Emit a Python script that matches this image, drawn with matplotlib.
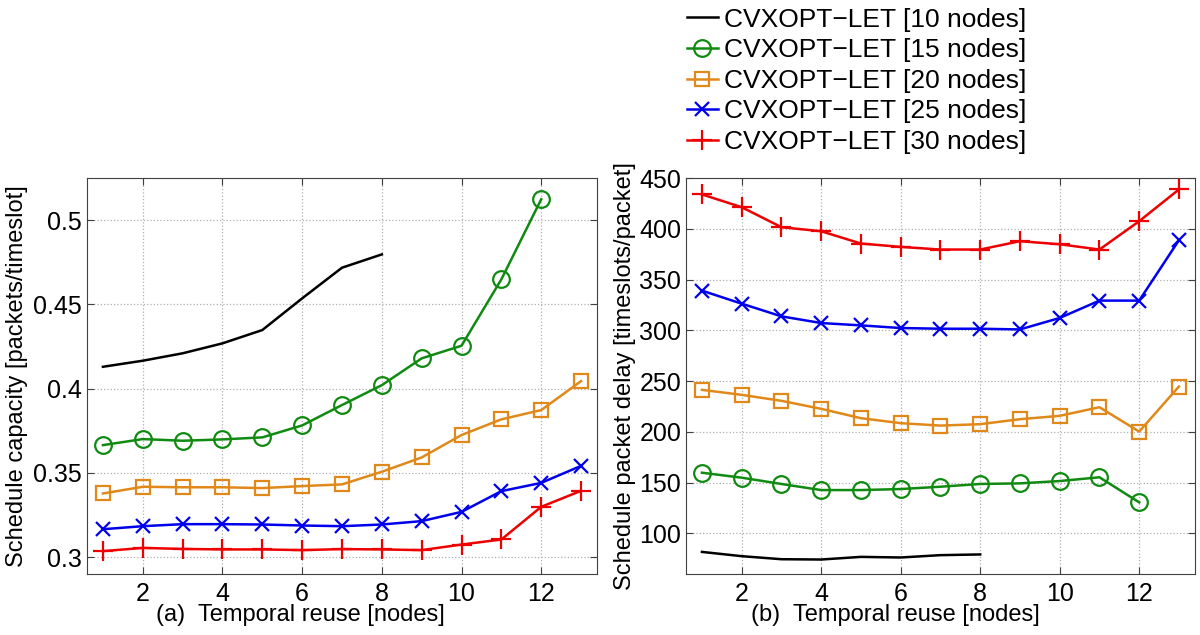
import numpy as np
import matplotlib
matplotlib.use("Agg")
import matplotlib.pyplot as plt

plt.rcParams['font.family'] = ['Liberation Sans', 'DejaVu Sans']

# temporal reuse values
reuse = np.arange(1, 14)

labels = ["CVXOPT\u2212LET [10 nodes]", "CVXOPT\u2212LET [15 nodes]",
          "CVXOPT\u2212LET [20 nodes]", "CVXOPT\u2212LET [25 nodes]",
          "CVXOPT\u2212LET [30 nodes]"]

# (a) schedule capacity [packets/timeslot]
cap_10 = [0.413, 0.4166, 0.421, 0.4269, 0.4348, 0.4536, 0.4718, 0.4797]
cap_15 = [0.3665, 0.3701, 0.3691, 0.3699, 0.3711, 0.3782, 0.3903, 0.4021,
          0.418, 0.4255, 0.4649, 0.5124]
cap_20 = [0.3378, 0.3418, 0.3415, 0.3415, 0.341, 0.3422, 0.3432, 0.3507,
          0.3592, 0.3725, 0.3818, 0.3873, 0.4045]
cap_25 = [0.3166, 0.3184, 0.3196, 0.3196, 0.3194, 0.3188, 0.3184, 0.3194,
          0.3214, 0.3269, 0.3392, 0.3441, 0.3542]
cap_30 = [0.3036, 0.3055, 0.3049, 0.3046, 0.3046, 0.3042, 0.3048, 0.3046,
          0.3042, 0.3075, 0.3105, 0.3299, 0.3394]

# (b) schedule packet delay [timeslots/packet]
delay_10 = [81.8, 77.6, 74.6, 74.3, 76.9, 76.3, 78.6, 79.3]
delay_15 = [159.8, 154.9, 148.7, 142.7, 142.7, 143.7, 146.0, 148.7,
            149.3, 151.6, 155.3, 130.6]
delay_20 = [241.4, 236.5, 230.6, 222.7, 213.5, 208.6, 206.2, 207.6,
            212.5, 215.8, 224.3, 200.3, 244.7]
delay_25 = [339.1, 326.3, 313.8, 307.2, 304.9, 302.3, 301.6, 301.6,
            300.9, 312.2, 329.3, 329.3, 388.8]
delay_30 = [433.9, 421.3, 401.6, 397.6, 385.5, 382.2, 379.6, 379.6,
            387.8, 384.8, 379.6, 407.5, 438.8]

styles = [
    dict(color='black', marker=None),
    dict(color='#108a10', marker='o', markersize=12),
    dict(color='#e0891a', marker='s', markersize=10.5),
    dict(color='#0000ee', marker='x', markersize=10),
    dict(color='#ee0000', marker='+', markersize=14),
]


def draw(ax, series):
    lines = []
    for vals, st, lab in zip(series, styles, labels):
        ln, = ax.plot(reuse[:len(vals)], vals, linewidth=1.8, markerfacecolor='none',
                      markeredgewidth=1.6, label=lab, **st)
        lines.append(ln)
    ax.grid(True, linestyle=':', color='#b0b0b0', linewidth=0.9)
    ax.set_xlim(0.6, 13.4)
    ax.set_xticks([2, 4, 6, 8, 10, 12])
    ax.tick_params(direction='in', top=True, right=True, labelsize=18, length=5,
                   color='#404040')
    ax.tick_params(axis='x', pad=6)
    for sp in ax.spines.values():
        sp.set_color('#404040')
    return lines


fig = plt.figure(figsize=(12, 6.35), dpi=100)
ax1 = fig.add_axes([0.0725, 0.096, 0.425, 0.6236])
ax2 = fig.add_axes([0.5717, 0.096, 0.424, 0.6236])

draw(ax1, [cap_10, cap_15, cap_20, cap_25, cap_30])
ax1.set_ylim(0.29, 0.525)
ax1.set_yticks([0.3, 0.35, 0.4, 0.45, 0.5])
ax1.set_yticklabels(['0.3', '0.35', '0.4', '0.45', '0.5'])
ax1.set_ylabel("Schedule capacity [packets/timeslot]", fontsize=17, labelpad=4)

lines = draw(ax2, [delay_10, delay_15, delay_20, delay_25, delay_30])
ax2.set_ylim(60, 450)
ax2.set_yticks([100, 150, 200, 250, 300, 350, 400, 450])
ax2.set_ylabel("Schedule packet delay [timeslots/packet]", fontsize=17, labelpad=2)

fig.text(0.25, 0.031, "(a)  Temporal reuse [nodes]", fontsize=17, ha='center', va='center')
fig.text(0.7465, 0.031, "(b)  Temporal reuse [nodes]", fontsize=17, ha='center', va='center')

fig.legend(handles=lines, loc='upper left', bbox_to_anchor=(0.559, 1.013),
           frameon=False, fontsize=19, handlelength=1.2, handletextpad=0.2,
           labelspacing=0.25, borderaxespad=0.2)

fig.savefig("out.png", dpi=100)
